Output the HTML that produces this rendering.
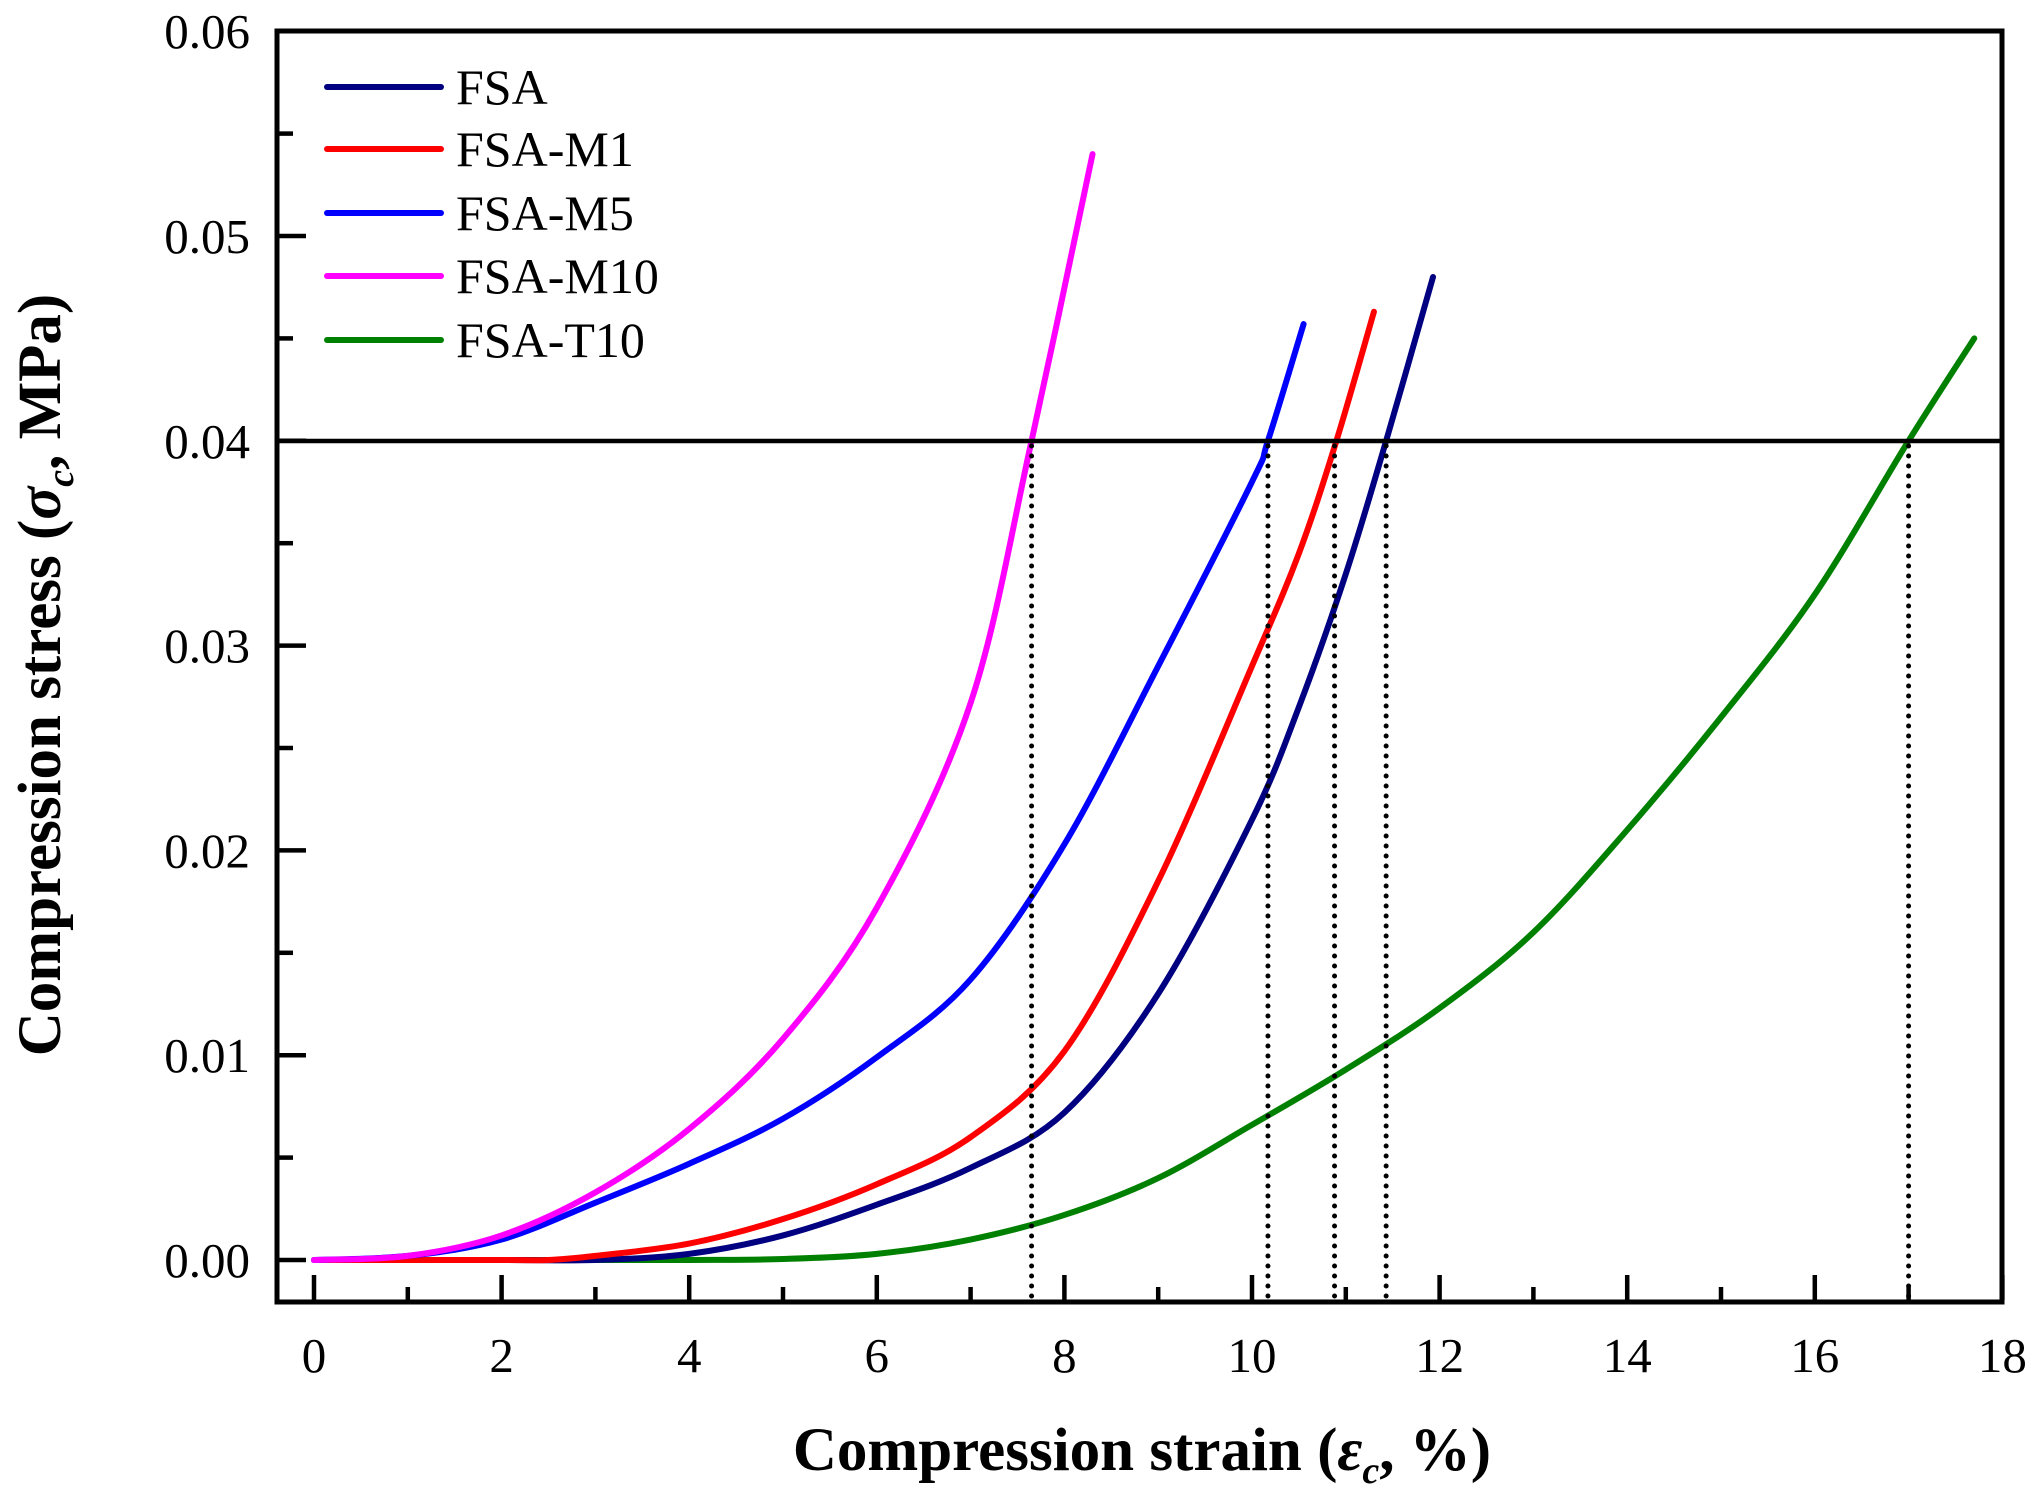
<!DOCTYPE html>
<html><head><meta charset="utf-8"><style>
html,body{margin:0;padding:0;background:#fff;}
svg{display:block;}
text{font-family:"Liberation Serif",serif;}
</style></head><body>
<svg id="s" width="2035" height="1503" xmlns="http://www.w3.org/2000/svg">
<g id="curves" fill="none" stroke-width="6" stroke-linecap="round" stroke-linejoin="round"></g>
<line x1="277" y1="441" x2="2002" y2="441" stroke="#000" stroke-width="4.5"/>
<g id="dots" stroke="#000" stroke-width="5" stroke-linecap="round" stroke-dasharray="0 10"></g>
<rect x="277" y="31" width="1725" height="1271" fill="none" stroke="#000" stroke-width="5"/>
<g id="ticks" stroke="#000" stroke-width="4.5"></g>
<g id="labels" font-size="49" fill="#000"></g>
<g font-size="50" fill="#000">
<line x1="327" y1="87" x2="441" y2="87" stroke="#000080" stroke-width="6" stroke-linecap="round"/>
<line x1="327" y1="149" x2="441" y2="149" stroke="#ff0000" stroke-width="6" stroke-linecap="round"/>
<line x1="327" y1="213" x2="441" y2="213" stroke="#0000ff" stroke-width="6" stroke-linecap="round"/>
<line x1="327" y1="276" x2="441" y2="276" stroke="#ff00ff" stroke-width="6" stroke-linecap="round"/>
<line x1="327" y1="340" x2="441" y2="340" stroke="#008000" stroke-width="6" stroke-linecap="round"/>
<text x="456" y="104">FSA</text>
<text x="456" y="166">FSA-M1</text>
<text x="456" y="230">FSA-M5</text>
<text x="456" y="293">FSA-M10</text>
<text x="456" y="357">FSA-T10</text>
</g>
<text x="1142" y="1470" font-size="61" font-weight="bold" text-anchor="middle">Compression strain (<tspan font-style="italic">ε</tspan><tspan font-size="38" dy="13" font-style="italic">c</tspan><tspan dy="-13">, %)</tspan></text>
<text transform="translate(60,675) rotate(-90)" font-size="61" font-weight="bold" text-anchor="middle">Compression stress (<tspan font-style="italic">σ</tspan><tspan font-size="38" dy="13" font-style="italic">c</tspan><tspan dy="-13">, MPa)</tspan></text>
</svg>
<script>
const NS="http://www.w3.org/2000/svg";
const X=x=>314+93.8*x, Y=y=>1260-20480*y;
function el(p,t,a){const e=document.createElementNS(NS,t);for(const k in a)e.setAttribute(k,a[k]);p.appendChild(e);return e;}
function path(pts){
 const P=pts.map(p=>[X(p[0]),Y(p[1])]);
 let d="M"+P[0][0]+","+P[0][1];
 for(let i=0;i<P.length-1;i++){
  const p0=P[Math.max(0,i-1)],p1=P[i],p2=P[i+1],p3=P[Math.min(P.length-1,i+2)];
  const c1=[p1[0]+(p2[0]-p0[0])/6,p1[1]+(p2[1]-p0[1])/6];
  const c2=[p2[0]-(p3[0]-p1[0])/6,p2[1]-(p3[1]-p1[1])/6];
  d+=` C${c1[0]},${c1[1]} ${c2[0]},${c2[1]} ${p2[0]},${p2[1]}`;
 }
 return d;
}
const S=[
["#008000",[[0,0],[2,0],[4,0],[5,0.00005],[6,0.0003],[7,0.001],[8,0.0022],[9,0.004],[10,0.0066],[11,0.0093],[12,0.0123],[13,0.016],[14,0.021],[15,0.0265],[16,0.0325],[17,0.04],[17.7,0.045]]],
["#000080",[[0,0],[2,0],[3,0],[4,0.0003],[5,0.0012],[6,0.0027],[7,0.0045],[8,0.0072],[9,0.013],[10,0.0215],[10.5,0.027],[11,0.0335],[11.43,0.04],[11.93,0.048]]],
["#ff0000",[[0,0],[2,0],[2.5,0],[3,0.0002],[4,0.0008],[5,0.002],[6,0.0037],[7,0.006],[8,0.0102],[9,0.0185],[10,0.029],[10.5,0.0345],[10.9,0.04],[11.3,0.0463]]],
["#0000ff",[[0,0],[1,0.0002],[2,0.001],[3,0.0028],[4,0.0047],[5,0.0069],[6,0.0099],[7,0.0137],[8,0.0203],[9,0.029],[10,0.038],[10.17,0.04],[10.55,0.0457]]],
["#ff00ff",[[0,0],[1,0.0002],[2,0.0012],[3,0.0033],[4,0.0064],[5,0.0108],[6,0.0172],[7,0.0272],[7.65,0.04],[8.3,0.054]]]
];
const g=document.getElementById("curves");
S.forEach(s=>el(g,"path",{d:path(s[1]),stroke:s[0]}));
const dg=document.getElementById("dots");
[7.65,10.17,10.88,11.43,17.0].forEach(x=>el(dg,"line",{x1:X(x),y1:446,x2:X(x),y2:1299}));
const tg=document.getElementById("ticks"),lg=document.getElementById("labels");
for(let i=0;i<=18;i++){const x=X(i),L=i%2?13:25;el(tg,"line",{x1:x,y1:1300,x2:x,y2:1300-L});
 if(i%2==0){const t=el(lg,"text",{x:x,y:1372,"text-anchor":"middle"});t.textContent=i;}}
for(let j=0;j<=12;j++){const y=Y(j*0.005),L=j%2?14:27;el(tg,"line",{x1:279,y1:y,x2:279+L,y2:y});
 if(j%2==0){const t=el(lg,"text",{x:250,y:y+17,"text-anchor":"end"});t.textContent=(j*0.005).toFixed(2);}}
</script>
</body></html>
